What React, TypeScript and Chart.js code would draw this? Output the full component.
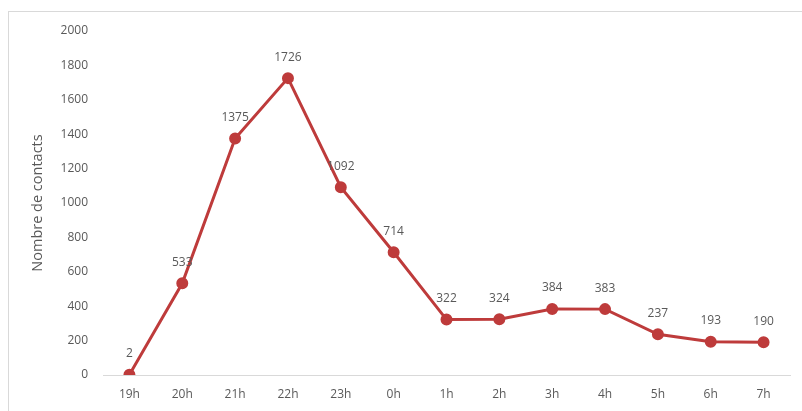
import React, { useEffect, useRef } from "react";
import { Chart, registerables } from "chart.js";

Chart.register(...registerables);

const categories = ["19h", "20h", "21h", "22h", "23h", "0h", "1h", "2h", "3h", "4h", "5h", "6h", "7h"];
const contacts = [2, 533, 1375, 1726, 1092, 714, 322, 324, 384, 383, 237, 193, 190];
const yTitle = "Nombre de contacts";

const FONT = "'Open Sans', 'Noto Sans', sans-serif";
const TXT = "#595959";
const LINE = "#BE3B3B";

const dataLabels = {
  id: "dataLabels",
  afterDatasetsDraw(chart: any) {
    const ctx = chart.ctx;
    const meta = chart.getDatasetMeta(0);
    ctx.save();
    ctx.font = `12px ${FONT}`;
    ctx.fillStyle = TXT;
    ctx.textAlign = "center";
    ctx.textBaseline = "middle";
    meta.data.forEach((pt: any, i: number) => {
      ctx.fillText(String(chart.data.datasets[0].data[i]), pt.x, pt.y - 21);
    });
    ctx.restore();
  },
};

export default function App() {
  const ref = useRef<HTMLCanvasElement>(null);
  useEffect(() => {
    document.body.style.margin = "0";
    const chart = new Chart(ref.current!, {
      type: "line",
      data: {
        labels: categories,
        datasets: [
          {
            data: contacts,
            borderColor: LINE,
            backgroundColor: LINE,
            borderWidth: 3,
            pointRadius: 4.5,
            pointBackgroundColor: LINE,
            pointBorderColor: LINE,
            tension: 0,
          },
        ],
      },
      options: {
        animation: false,
        responsive: false,
        layout: { padding: { left: 25, right: 12, top: 31, bottom: 6 } },
        plugins: { legend: { display: false }, tooltip: { enabled: false } },
        scales: {
          x: {
            offset: true,
            grid: { display: false, drawTicks: false },
            border: { display: true, color: "#d9d9d9", width: 1 },
            ticks: { color: TXT, font: { family: FONT, size: 12 }, padding: 12, maxRotation: 0 },
            afterFit: (s: any) => { s.height = 30; },
          },
          y: {
            min: 0,
            max: 2000,
            grid: { display: false, drawTicks: false },
            border: { display: false },
            ticks: {
              stepSize: 200,
              color: TXT,
              font: { family: FONT, size: 12 },
              padding: 15,
              callback: (v: any) => String(v),
            },
            title: { display: true, text: yTitle, color: TXT, font: { family: FONT, size: 14.5 } },
            afterFit: (s: any) => { s.width = 78; },
          },
        },
      },
      plugins: [dataLabels],
    });
    return () => chart.destroy();
  }, []);
  return (
    <div style={{ position: "relative", width: 802, height: 411, background: "#fff" }}>
      <div style={{ position: "absolute", left: 8, top: 11, width: 800, height: 405, border: "1px solid #d9d9d9", boxSizing: "border-box" }} />
      <canvas ref={ref} width={802} height={411} style={{ position: "absolute", left: 0, top: 0 }} />
    </div>
  );
}
